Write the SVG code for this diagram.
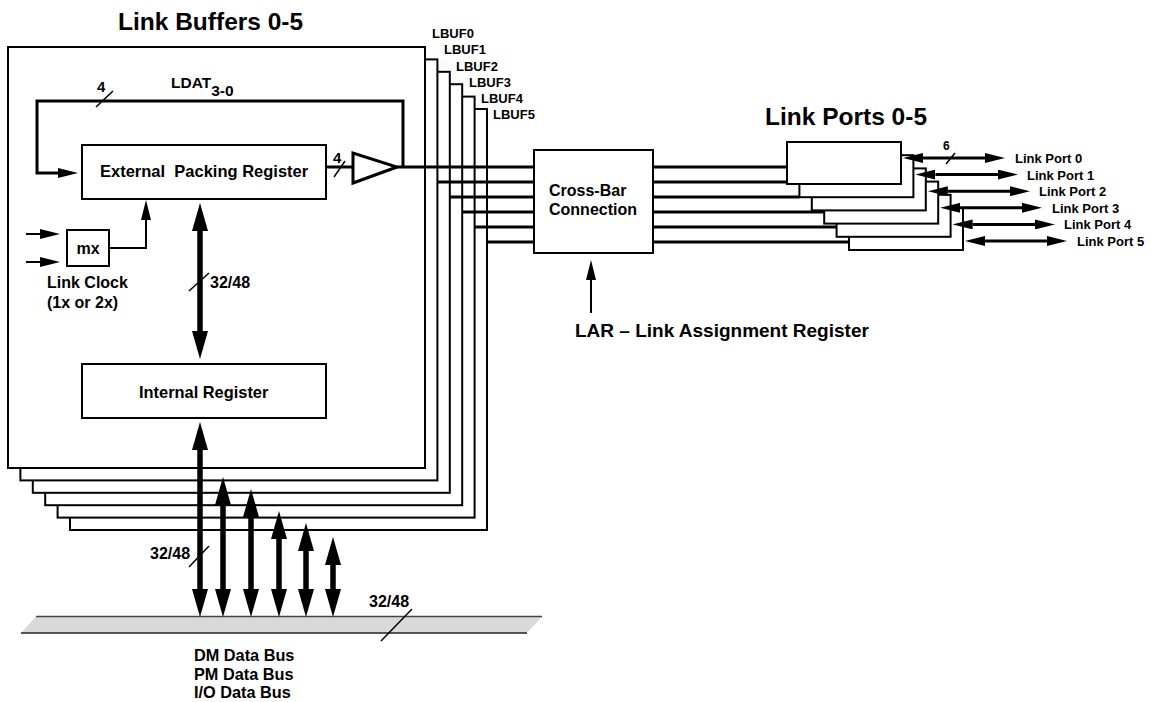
<svg xmlns="http://www.w3.org/2000/svg" width="1151" height="702" viewBox="0 0 1151 702">
<style>
.box{fill:#fff;stroke:#000;stroke-width:2}
.t{font-family:"Liberation Sans",Arial,sans-serif;font-weight:bold;fill:#000}
.w3{stroke:#000;stroke-width:3;fill:none}
.w2{stroke:#000;stroke-width:2;fill:none}
.sl{stroke:#000;stroke-width:1.5;fill:none}
.fat{stroke:#000;stroke-width:5.5;fill:none}
</style>
<defs>
<marker id="big" viewBox="0 0 28 16" markerWidth="28" markerHeight="16" refX="0" refY="8" orient="auto-start-reverse" markerUnits="userSpaceOnUse"><path d="M0,0 L28,8 L0,16 z" fill="#000"/></marker>
<marker id="ah" viewBox="0 0 20 10" markerWidth="20" markerHeight="10" refX="0" refY="5" orient="auto-start-reverse" markerUnits="userSpaceOnUse"><path d="M0,0 L20,5 L0,10 z" fill="#000"/></marker>
</defs>
<rect width="1151" height="702" fill="#fff"/>

<g id="link-buffers">
<rect class="box" x="70" y="109" width="417" height="421"/>
<rect class="box" x="57.6" y="96.6" width="417" height="421"/>
<rect class="box" x="45.2" y="84.2" width="417" height="421"/>
<rect class="box" x="32.8" y="71.8" width="417" height="421"/>
<rect class="box" x="20.4" y="59.4" width="417" height="421"/>
<rect class="box" x="8" y="47" width="417" height="421"/>
<text class="t" x="118" y="30" font-size="24.5">Link Buffers 0-5</text>
<g font-size="13">
<text class="t" x="432" y="38">LBUF0</text>
<text class="t" x="444" y="54">LBUF1</text>
<text class="t" x="456" y="71">LBUF2</text>
<text class="t" x="469" y="87">LBUF3</text>
<text class="t" x="481" y="103">LBUF4</text>
<text class="t" x="493" y="119">LBUF5</text>
</g>
</g>

<g id="data-bus">
<polygon points="36,616.5 542,616.5 527,633 21,633" fill="#d9d9d9"/>
<line x1="36" y1="616.5" x2="542" y2="616.5" stroke="#444" stroke-width="1.5"/>
<line x1="21" y1="633" x2="527" y2="633" stroke="#222" stroke-width="1.5"/>
<text class="t" x="194" y="661" font-size="16.3">DM Data Bus</text>
<text class="t" x="194" y="680" font-size="16.3">PM Data Bus</text>
<text class="t" x="194" y="698" font-size="16.3">I/O Data Bus</text>
</g>

<g id="ext-packing-register">
<rect class="box" x="82" y="145" width="244" height="54"/>
<text class="t" x="100" y="177" font-size="16.5" xml:space="preserve">External  Packing Register</text>
</g>

<g id="internal-register">
<rect class="box" x="82" y="364" width="244" height="54"/>
<text class="t" x="139" y="398" font-size="16.4">Internal Register</text>
</g>

<g id="mx">
<rect class="box" x="67" y="230" width="42" height="36"/>
<text class="t" x="88" y="254" font-size="16" text-anchor="middle">mx</text>
<text class="t" x="47" y="288" font-size="16">Link Clock</text>
<text class="t" x="47" y="308" font-size="16">(1x or 2x)</text>
</g>

<g id="driver">
<polygon points="353,153 353,183 397,167" fill="#fff" stroke="#000" stroke-width="3" stroke-linejoin="miter"/>
</g>

<g id="crossbar">
<rect class="box" x="534" y="150" width="119" height="103"/>
<text class="t" x="549" y="196" font-size="16">Cross-Bar</text>
<text class="t" x="549" y="215" font-size="16">Connection</text>
<text class="t" x="575" y="337" font-size="19">LAR – Link Assignment Register</text>
</g>

<g id="link-ports">
<rect class="box" x="849" y="208" width="114" height="42"/>
<rect class="box" x="836.6" y="194.8" width="114" height="42"/>
<rect class="box" x="824.2" y="181.6" width="114" height="42"/>
<rect class="box" x="811.8" y="168.4" width="114" height="42"/>
<rect class="box" x="799.4" y="155.2" width="114" height="42"/>
<rect class="box" x="787" y="142" width="114" height="42"/>
<text class="t" x="765" y="125" font-size="24.5">Link Ports 0-5</text>
</g>

<g id="connectors">
<!-- LDAT loop -->
<polyline class="w3" stroke-width="3.5" points="403,167 403,101 37,101 37,173 58,173" marker-end="url(#ah)"/>
<line class="w3" x1="326" y1="167" x2="353" y2="167"/>
<!-- mx -->
<line class="w2" stroke-width="2.5" x1="26" y1="234" x2="40" y2="234" marker-end="url(#ah)"/>
<line class="w2" stroke-width="2.5" x1="26" y1="262" x2="40" y2="262" marker-end="url(#ah)"/>
<polyline class="w2" points="109,248 146,248 146,220" marker-end="url(#ah)"/>
<!-- 32/48 internal -->
<line class="fat" x1="200" y1="231" x2="200" y2="331" marker-start="url(#big)" marker-end="url(#big)"/>
<!-- bus arrows -->
<line class="fat" x1="200" y1="450" x2="200" y2="589" marker-start="url(#big)" marker-end="url(#big)"/>
<line class="fat" x1="223" y1="505" x2="223" y2="589" marker-start="url(#big)" marker-end="url(#big)"/>
<line class="fat" x1="251" y1="517" x2="251" y2="589" marker-start="url(#big)" marker-end="url(#big)"/>
<line class="fat" x1="279" y1="539" x2="279" y2="589" marker-start="url(#big)" marker-end="url(#big)"/>
<line class="fat" x1="306" y1="551" x2="306" y2="589" marker-start="url(#big)" marker-end="url(#big)"/>
<line class="fat" x1="333" y1="565" x2="333" y2="589" marker-start="url(#big)" marker-end="url(#big)"/>
<!-- buffers to crossbar -->
<line class="w3" x1="397" y1="167" x2="534" y2="167"/>
<line class="w3" x1="437.4" y1="182" x2="534" y2="182"/>
<line class="w3" x1="449.8" y1="197" x2="534" y2="197"/>
<line class="w3" x1="462.2" y1="212" x2="534" y2="212"/>
<line class="w3" x1="474.6" y1="227" x2="534" y2="227"/>
<line class="w3" x1="487" y1="242" x2="534" y2="242"/>
<!-- crossbar to ports -->
<line class="w3" x1="653" y1="167" x2="787" y2="167"/>
<line class="w3" x1="653" y1="182" x2="787" y2="182"/>
<line class="w3" x1="653" y1="197" x2="799.4" y2="197"/>
<line class="w3" x1="653" y1="212" x2="824.2" y2="212"/>
<line class="w3" x1="653" y1="227" x2="836.6" y2="227"/>
<line class="w3" x1="653" y1="242" x2="849" y2="242"/>
<!-- LAR -->
<line class="w2" stroke-width="2.5" x1="591" y1="313" x2="591" y2="280" marker-end="url(#ah)"/>
<!-- port arrows -->
<line class="w3" x1="923" y1="158" x2="985" y2="158" marker-start="url(#ah)" marker-end="url(#ah)"/>
<line class="w3" x1="935.4" y1="174.6" x2="998" y2="174.6" marker-start="url(#ah)" marker-end="url(#ah)"/>
<line class="w3" x1="947.8" y1="191.2" x2="1010" y2="191.2" marker-start="url(#ah)" marker-end="url(#ah)"/>
<line class="w3" x1="960.2" y1="207.8" x2="1022" y2="207.8" marker-start="url(#ah)" marker-end="url(#ah)"/>
<line class="w3" x1="972.6" y1="224.4" x2="1035" y2="224.4" marker-start="url(#ah)" marker-end="url(#ah)"/>
<line class="w3" x1="985" y1="241" x2="1047" y2="241" marker-start="url(#ah)" marker-end="url(#ah)"/>
<!-- bus width slashes -->
<line class="sl" stroke-width="2" x1="96" y1="107" x2="113" y2="91"/>
<line class="sl" x1="334" y1="177" x2="345" y2="161"/>
<line class="sl" stroke-width="2" x1="189" y1="291" x2="209" y2="273"/>
<line class="sl" x1="189" y1="567" x2="209" y2="546"/>
<line class="sl" x1="381" y1="641" x2="412" y2="609"/>
<line class="sl" x1="946" y1="164" x2="955" y2="153"/>
</g>

<g id="labels">
<text class="t" x="97" y="92" font-size="15">4</text>
<text class="t" x="171" y="88" font-size="15.5">LDAT<tspan dy="8">3-0</tspan></text>
<text class="t" x="333" y="163" font-size="15">4</text>
<text class="t" x="210" y="288" font-size="16">32/48</text>
<text class="t" x="150" y="559" font-size="16">32/48</text>
<text class="t" x="369" y="607" font-size="16">32/48</text>
<text class="t" x="943" y="150" font-size="12">6</text>
<g font-size="13">
<text class="t" x="1015" y="163">Link Port 0</text>
<text class="t" x="1027" y="180">Link Port 1</text>
<text class="t" x="1039" y="196">Link Port 2</text>
<text class="t" x="1052" y="213">Link Port 3</text>
<text class="t" x="1064" y="229">Link Port 4</text>
<text class="t" x="1077" y="246">Link Port 5</text>
</g>
</g>
</svg>
